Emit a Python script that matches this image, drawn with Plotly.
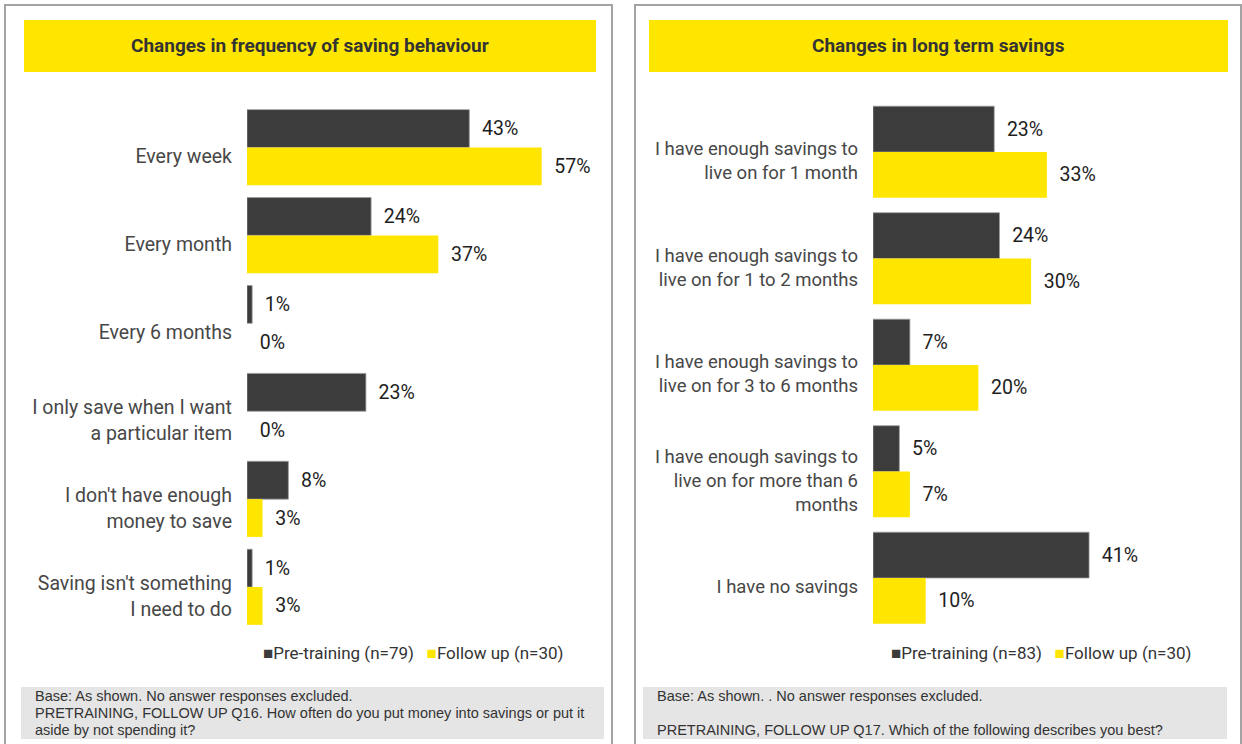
import plotly.graph_objects as go

W, H = 1242, 744

# ---- data ----
freq_categories = [
    "Every week",
    "Every month",
    "Every 6 months",
    "I only save when I want<br>a particular item",
    "I don't have enough<br>money to save",
    "Saving isn't something<br>I need to do",
]
freq_pre = [43, 24, 1, 23, 8, 1]
freq_follow = [57, 37, 0, 0, 3, 3]

long_categories = [
    "I have enough savings to<br>live on for 1 month",
    "I have enough savings to<br>live on for 1 to 2 months",
    "I have enough savings to<br>live on for 3 to 6 months",
    "I have enough savings to<br>live on for more than 6<br>months",
    "I have no savings",
]
long_pre = [23, 24, 7, 5, 41]
long_follow = [33, 30, 20, 7, 10]

freq_series = ["Pre-training (n=79)", "Follow up (n=30)"]
long_series = ["Pre-training (n=83)", "Follow up (n=30)"]

titles = ["Changes in frequency of saving behaviour", "Changes in long term savings"]
notes = [
    ["Base: As shown. No answer responses excluded.",
     "PRETRAINING, FOLLOW UP Q16. How often do you put money into savings or put it",
     "aside by not spending it?"],
    ["Base: As shown. . No answer responses excluded.",
     "",
     "PRETRAINING, FOLLOW UP Q17. Which of the following describes you best?"],
]

# ---- styling ----
DARK = "#3c3c3c"
YELLOW = "#ffe600"
FONT = "Roboto"
PAD = "\u00a0\u00a0"


def px(x):
    return x / W


def py(y):
    return 1 - y / H


fig = go.Figure()


def add_pair(cats, pre, follow, names, xa, ya):
    fig.add_trace(go.Bar(
        y=cats, x=pre, name=names[0], orientation="h",
        marker=dict(color=DARK, line=dict(color="#9a9a9a", width=0.8)),
        text=[f"{PAD}{v}%" for v in pre], textposition="outside",
        textfont=dict(family=FONT, size=19.5, color="#1e1e1e"),
        constraintext="none", cliponaxis=False,
        xaxis=xa, yaxis=ya, showlegend=False,
    ))
    fig.add_trace(go.Bar(
        y=cats, x=follow, name=names[1], orientation="h",
        marker=dict(color=YELLOW, line=dict(width=0)),
        text=[f"{PAD}{v}%" for v in follow], textposition="outside",
        textfont=dict(family=FONT, size=19.5, color="#1e1e1e"),
        constraintext="none", cliponaxis=False,
        xaxis=xa, yaxis=ya, showlegend=False,
    ))


add_pair(freq_categories, freq_pre, freq_follow, freq_series, "x", "y")
add_pair(long_categories, long_pre, long_follow, long_series, "x2", "y2")

yaxis_common = dict(
    type="category", showline=False, showgrid=False, zeroline=False,
    ticks="", ticklabelstandoff=14, ticklabelshift=-9,
)

fig.update_layout(
    width=W, height=H, margin=dict(l=0, r=0, t=0, b=0),
    paper_bgcolor="white", plot_bgcolor="rgba(0,0,0,0)",
    barmode="group", bargap=0.14, bargroupgap=0,
    xaxis=dict(domain=[px(247), px(600)], range=[0, 353 / 5.17], visible=False),
    yaxis=dict(domain=[py(631), py(103.5)], range=[5.5, -0.5],
               categoryarray=freq_categories,
               tickfont=dict(family=FONT, size=19.5, color="#474747"),
               **yaxis_common),
    xaxis2=dict(domain=[px(873), px(1230)], range=[0, 357 / 5.27], visible=False,
                anchor="y2"),
    yaxis2=dict(domain=[py(631.25), py(98.75)], range=[4.5, -0.5],
                categoryarray=long_categories, anchor="x2",
                tickfont=dict(family=FONT, size=18.5, color="#474747"),
                **yaxis_common),
)

shapes = []
annotations = []

# panel frames
for x0, x1 in [(5, 612), (635, 1241)]:
    shapes.append(dict(type="rect", xref="paper", yref="paper",
                       x0=px(x0), x1=px(x1), y0=py(5), y1=py(760),
                       line=dict(color="#a3a3a3", width=2), fillcolor="rgba(0,0,0,0)"))

# title banners
for (x0, x1), title in zip([(24, 596), (649, 1228)], titles):
    shapes.append(dict(type="rect", xref="paper", yref="paper",
                       x0=px(x0), x1=px(x1), y0=py(72), y1=py(20),
                       line=dict(width=0), fillcolor=YELLOW, layer="below"))
    annotations.append(dict(xref="paper", yref="paper", x=px((x0 + x1) / 2), y=py(46),
                            text=f"<b>{title}</b>", showarrow=False,
                            font=dict(family=FONT, size=19, color="#333333"),
                            xanchor="center", yanchor="middle"))

# legends
for cx, names in zip([413, 1041], [freq_series, long_series]):
    txt = (f"<span style='color:{DARK}'>■</span>{names[0]}\u00a0\u00a0\u00a0"
           f"<span style='color:{YELLOW}'>■</span>{names[1]}")
    annotations.append(dict(xref="paper", yref="paper", x=px(cx), y=py(653),
                            text=txt, showarrow=False,
                            font=dict(family=FONT, size=17, color="#333333"),
                            xanchor="center", yanchor="middle"))

# footnote boxes, one annotation per line
line_y = [696, 713, 729.5]
for (x0, x1), note in zip([(21, 604), (643, 1227)], notes):
    shapes.append(dict(type="rect", xref="paper", yref="paper",
                       x0=px(x0), x1=px(x1), y0=py(739), y1=py(687),
                       line=dict(width=0), fillcolor="#e5e5e5", layer="below"))
    for ly, line in zip(line_y, note):
        if not line:
            continue
        annotations.append(dict(xref="paper", yref="paper", x=px(x0 + 12), y=py(ly),
                                text=line, showarrow=False, align="left",
                                font=dict(family="Liberation Sans", size=14.5,
                                          color="#333333"),
                                xanchor="left", yanchor="middle"))

fig.update_layout(shapes=shapes, annotations=annotations)

fig.write_html("out.html")
